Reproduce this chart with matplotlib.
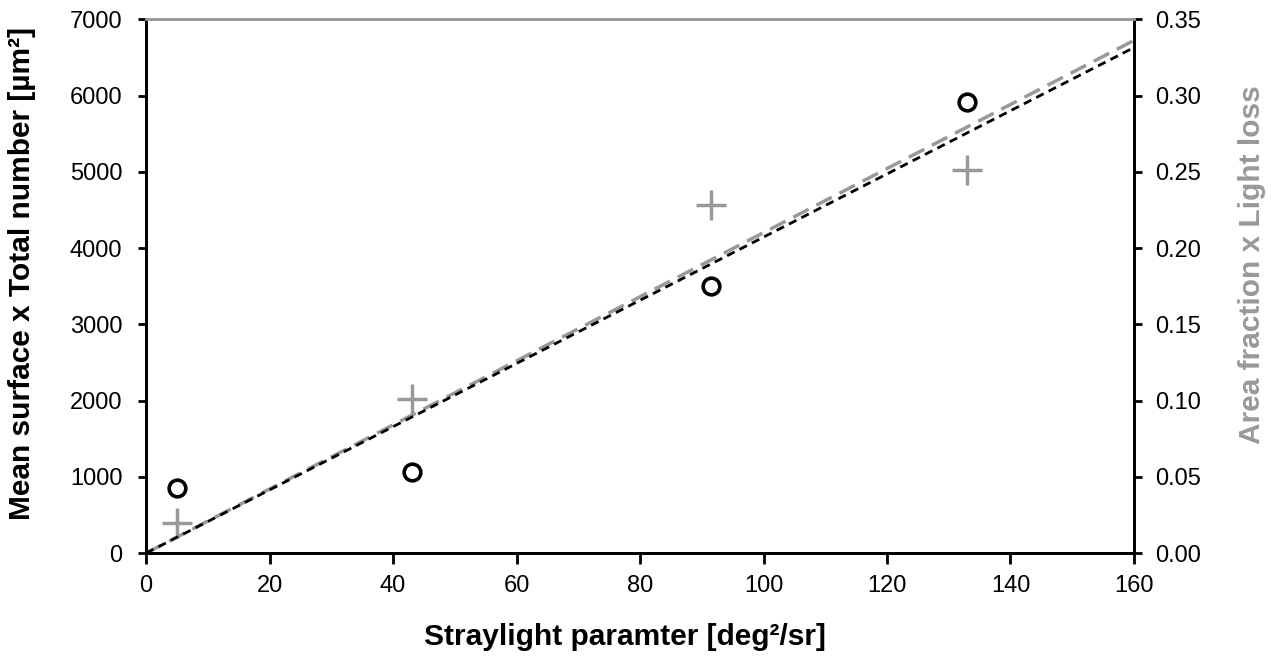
import numpy as np
import matplotlib
matplotlib.use("Agg")
import matplotlib.pyplot as plt

plt.rcParams['font.family'] = ['Liberation Sans', 'DejaVu Sans']

# Data
straylight = [5, 43, 91.5, 133]
surface_total = [850, 1060, 3500, 5920]          # left axis, circles
area_lightloss = [0.020, 0.101, 0.228, 0.251]    # right axis, pluses

x_ticks = [0, 20, 40, 60, 80, 100, 120, 140, 160]
left_ticks = [0, 1000, 2000, 3000, 4000, 5000, 6000, 7000]
right_ticks = [0.0, 0.05, 0.10, 0.15, 0.20, 0.25, 0.30, 0.35]

GRAY = '#999999'


def fit_origin(x, y):
    """Least squares slope for a line through the origin."""
    x = np.asarray(x, float)
    y = np.asarray(y, float)
    return np.sum(x * y) / np.sum(x * x)


fig = plt.figure(figsize=(12.71, 6.64), dpi=100)
ax = fig.add_axes([0.1149, 0.167, 0.7773, 0.804])
ax2 = ax.twinx()

xs = np.array([0, 160])
k1 = fit_origin(straylight, surface_total)
k2 = fit_origin(straylight, area_lightloss)

ax.plot(xs, k1 * xs, color='black', linestyle=(0, (3, 2)), linewidth=2, zorder=2)
ax.plot(straylight, surface_total, 'o', markersize=12, markerfacecolor='none',
        markeredgecolor='black', markeredgewidth=2.6, zorder=3)

ax2.plot(xs, k2 * xs, color=GRAY, linestyle=(0, (5, 2.5)), linewidth=2.5, zorder=2)
ax2.plot(straylight, area_lightloss, '+', markersize=22, color=GRAY,
         markeredgewidth=2.5, zorder=3)

ax.set_zorder(ax2.get_zorder() + 1)
ax.patch.set_visible(False)

ax.set_xlim(0, 160)
ax.set_ylim(0, 7000)
ax2.set_ylim(0, 0.35)
ax.set_xticks(x_ticks)
ax.set_yticks(left_ticks)
ax2.set_yticks(right_ticks)
ax2.set_yticklabels([f"{v:.2f}" for v in right_ticks])

for a in (ax, ax2):
    a.tick_params(direction='out', length=6, width=2, labelsize=17, color='black')
    for s in a.spines.values():
        s.set_linewidth(2)
    a.spines['top'].set_color(GRAY)
ax.tick_params(axis='x', length=8, pad=8)
ax.tick_params(axis='y', pad=11)
ax2.tick_params(axis='y', pad=9)

ax.set_xlabel("Straylight paramter [deg²/sr]", fontsize=21.5, fontweight='bold')
ax.set_ylabel("Mean surface x Total number [µm²]", fontsize=21.5, fontweight='bold')
ax2.set_ylabel("Area fraction x Light loss", fontsize=21.5, fontweight='bold',
               color=GRAY)

# label placement taken from the reference layout
ax.xaxis.set_label_coords(0.485, -0.13)
ax.yaxis.set_label_coords(-0.111, 0.524)
ax2.yaxis.set_label_coords(1.105, 0.54)

fig.savefig("out.png", dpi=100)
